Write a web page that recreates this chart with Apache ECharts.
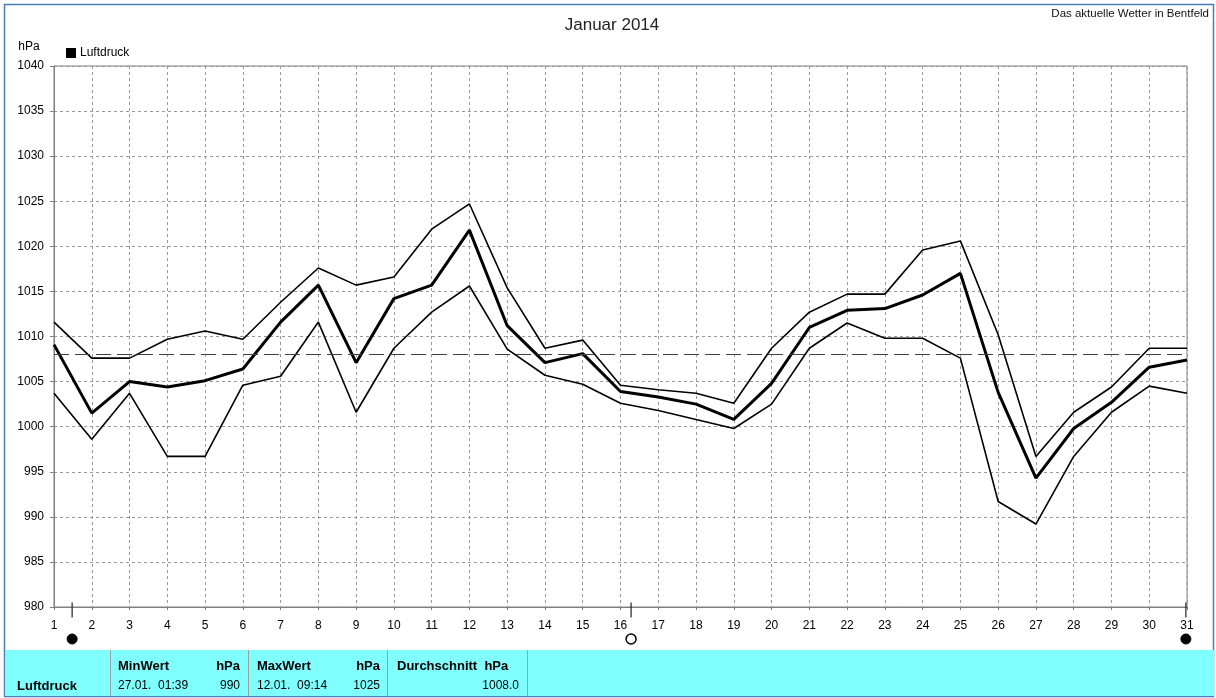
<!DOCTYPE html>
<html>
<head>
<meta charset="utf-8">
<script src="https://cdn.jsdelivr.net/npm/echarts@6/dist/echarts.min.js"></script>
<style>
html,body{margin:0;padding:0;background:#fff;}
#chart{width:1216px;height:698px;}
</style>
</head>
<body>
<div id="chart"></div>
<script>
// ---- data ----
var days = [1,2,3,4,5,6,7,8,9,10,11,12,13,14,15,16,17,18,19,20,21,22,23,24,25,26,27,28,29,30,31];
var upperValues = [1011.6,1007.6,1007.6,1009.7,1010.6,1009.7,1013.8,1017.6,1015.7,1016.6,1021.9,1024.7,1015.4,1008.7,1009.6,1004.6,1004.1,1003.7,1002.6,1008.7,1012.7,1014.7,1014.7,1019.6,1020.6,1010.2,996.7,1001.6,1004.4,1008.7,1008.7];
var meanValues = [1009.1,1001.5,1005.0,1004.4,1005.1,1006.4,1011.6,1015.7,1007.1,1014.2,1015.7,1021.8,1011.2,1007.1,1008.1,1003.9,1003.3,1002.5,1000.8,1004.8,1011.0,1012.9,1013.1,1014.6,1017.0,1003.8,994.3,999.8,1002.7,1006.6,1007.4];
var lowerValues = [1003.7,998.6,1003.7,996.7,996.7,1004.6,1005.6,1011.6,1001.6,1008.7,1012.7,1015.6,1008.6,1005.7,1004.7,1002.6,1001.8,1000.8,999.8,1002.5,1008.7,1011.5,1009.8,1009.8,1007.6,991.7,989.2,996.7,1001.6,1004.5,1003.7];
var averageValue = 1008.0;
var moonDays = [1.48, 16.28, 30.97];
var moonPhases = ['new', 'full', 'new'];
var seriesName = 'Luftdruck';
var titleText = 'Januar 2014';
var subtitleText = 'Das aktuelle Wetter in Bentfeld';
var unitText = 'hPa';
var tableMin = ['MinWert', 'hPa', '27.01.  01:39', '990'];
var tableMax = ['MaxWert', 'hPa', '12.01.  09:14', '1025'];
var tableAvg = ['Durchschnitt  hPa', averageValue.toFixed(1)];

// ---- build ----
function pairs(vals){ return days.map(function(d,i){ return [d, vals[i]]; }); }
var yBase = 980;
var FONT = '"Liberation Sans", Arial, sans-serif';

var chart = echarts.init(document.getElementById('chart'), null, {renderer:'canvas'});

function txt(x, y, s, opt){
  opt = opt || {};
  return {
    type:'text', x:x, y:y, silent:true, z:10,
    style:{
      text:s,
      font:(opt.bold?'bold ':'') + (opt.size||12) + 'px ' + FONT,
      fill:opt.color||'#000',
      textAlign:opt.align||'left',
      textVerticalAlign:'middle'
    }
  };
}
function vline(x, y1, y2, color){
  return {type:'line', silent:true, z:9, shape:{x1:x,y1:y1,x2:x,y2:y2}, style:{stroke:color, lineWidth:1}};
}

var option = {
  animation:false,
  backgroundColor:'#ffffff',
  grid:{left:54, right:29, top:66, bottom:91, show:true, borderColor:'#808080', borderWidth:1, backgroundColor:'transparent'},
  legend:{
    data:[seriesName], left:66, top:47, padding:0, icon:'rect', itemWidth:10, itemHeight:10, itemGap:4,
    textStyle:{fontSize:12, color:'#000', fontFamily:FONT, padding:[0,0,0,-1]},
    selectedMode:false
  },
  xAxis:{
    type:'value', min:1, max:31, interval:1,
    axisLine:{show:true, onZero:false, lineStyle:{color:'#808080', width:1}},
    axisTick:{show:true, length:3, lineStyle:{color:'#808080'}},
    axisLabel:{fontSize:12, color:'#000', fontFamily:FONT, margin:13, formatter:function(v){ return String(v); }},
    splitLine:{show:true, lineStyle:{color:'#999999', type:[3,3], width:1}}
  },
  yAxis:{
    type:'value', min:980, max:1040, interval:5,
    axisLine:{show:true, onZero:false, lineStyle:{color:'#808080', width:1}},
    axisTick:{show:true, length:4, lineStyle:{color:'#808080'}},
    axisLabel:{fontSize:12, color:'#000', fontFamily:FONT, margin:10, formatter:function(v){ return String(v); }},
    splitLine:{show:true, lineStyle:{color:'#999999', type:[3,3], width:1}}
  },
  series:[
    {
      name:'Max', type:'line', data:pairs(upperValues), showSymbol:false, symbol:'none',
      lineStyle:{color:'#000', width:1.6}, itemStyle:{color:'#000'}, z:3
    },
    {
      name:seriesName, type:'line', data:pairs(meanValues), showSymbol:false, symbol:'none',
      lineStyle:{color:'#000', width:3}, itemStyle:{color:'#000'}, z:4,
      markLine:{
        silent:true, symbol:'none', label:{show:false},
        lineStyle:{color:'#404040', width:1, type:[15,6]},
        data:[{yAxis:averageValue}]
      }
    },
    {
      name:'Min', type:'line', data:pairs(lowerValues), showSymbol:false, symbol:'none',
      lineStyle:{color:'#000', width:1.6}, itemStyle:{color:'#000'}, z:3
    },
    {
      name:'MondTick', type:'scatter', clip:false, silent:true, z:6,
      data:moonDays.map(function(d){ return [d, yBase]; }),
      symbol:'rect', symbolSize:[1.2,15], symbolOffset:[0,3],
      itemStyle:{color:'#222', opacity:1}
    },
    {
      name:'Mond', type:'scatter', clip:false, silent:true, z:6,
      data:moonDays.map(function(d,i){
        var full = moonPhases[i] === 'full';
        return {value:[d, yBase], itemStyle: full ? {color:'#fff', borderColor:'#000', borderWidth:1.5, opacity:1} : {color:'#000', borderColor:'#000', borderWidth:1, opacity:1}};
      }),
      symbol:'circle', symbolSize:10, symbolOffset:[0,32],
      itemStyle:{opacity:1}
    }
  ],
  graphic:[
    {type:'rect', silent:true, z:1, shape:{x:4.5, y:4.5, width:1209, height:692}, style:{fill:'none', stroke:'#4a7ebb', lineWidth:1.5}},
    {type:'rect', silent:true, z:8, shape:{x:5, y:650, width:1209, height:46}, style:{fill:'#80ffff', stroke:null}},
    vline(110.5, 650, 696, '#a0a0a0'),
    vline(248.5, 650, 696, '#a0a0a0'),
    vline(387.5, 650, 696, '#a0a0a0'),
    vline(527.5, 650, 696, '#a0a0a0'),
    txt(612, 25, titleText, {size:17, color:'#222', align:'center'}),
    txt(1209, 14, subtitleText, {size:11.5, color:'#111', align:'right'}),
    txt(29, 47, unitText, {size:12, align:'center'}),
    txt(17, 686, seriesName, {size:13, bold:true}),
    txt(118, 666, tableMin[0], {size:13, bold:true}),
    txt(240, 666, tableMin[1], {size:13, bold:true, align:'right'}),
    txt(118, 686, tableMin[2], {size:12}),
    txt(240, 686, tableMin[3], {size:12, align:'right'}),
    txt(257, 666, tableMax[0], {size:13, bold:true}),
    txt(380, 666, tableMax[1], {size:13, bold:true, align:'right'}),
    txt(257, 686, tableMax[2], {size:12}),
    txt(380, 686, tableMax[3], {size:12, align:'right'}),
    txt(397, 666, tableAvg[0], {size:13, bold:true}),
    txt(519, 686, tableAvg[1], {size:12, align:'right'})
  ]
};
chart.setOption(option);
</script>
</body>
</html>
